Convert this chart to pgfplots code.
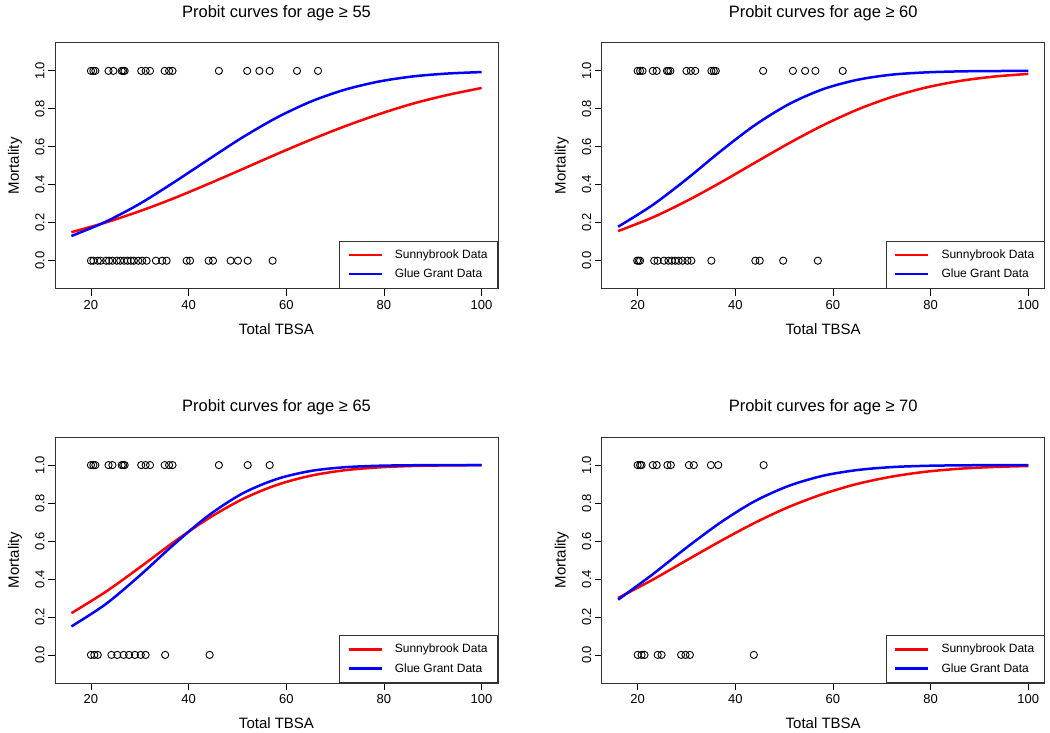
\documentclass[border=0pt]{standalone}
\usepackage{pgfplots}
\pgfplotsset{compat=1.18}
\usepackage{fontspec}
\setmainfont{Liberation Sans}
\pgfplotsset{
  rpanel/.style={
    scale only axis, width=443pt, height=246pt,
    xmin=12.64, xmax=103.36, ymin=-0.148, ymax=1.148,
    xtick={20,40,60,80,100}, ytick={0,0.2,0.4,0.6,0.8,1.0},
    tick align=outside, xtick pos=left, ytick pos=left,
    major tick length=7pt,
    every tick/.style={black, line width=0.8pt},
    axis line style={black!80, line width=0.9pt},
    /pgf/number format/assume math mode=true,
    xticklabel style={font=\fontsize{13}{15}\selectfont, yshift=-1pt},
    yticklabel style={font=\fontsize{13}{15}\selectfont, rotate=90, anchor=south, /pgf/number format/.cd, fixed, fixed zerofill, precision=1},
    xlabel={Total TBSA}, ylabel={Mortality},
    label style={font=\fontsize{15}{17}\selectfont},
    xlabel style={at={(axis description cs:0.5,0)}, anchor=center, yshift=-40pt},
    ylabel style={at={(axis description cs:0,0.5)}, anchor=center, yshift=40pt},
    title style={at={(axis description cs:0.5,1)}, anchor=center, yshift=24pt, font=\fontsize{16.5}{19}\selectfont},
    legend style={at={(axis description cs:1,0)}, anchor=south east, draw=black!80, line width=0.9pt,
      font=\fontsize{12}{14}\selectfont, inner xsep=8pt, inner ysep=7pt, row sep=5pt},
    legend cell align=left,
    legend image code/.code={\draw[#1, line width=2.5pt] (0pt,0pt) -- (33pt,0pt); \path (43pt,0pt);},
  },
  pts/.style={only marks, mark=o, mark size=3.6pt, black, mark options={line width=0.9pt}, forget plot},
  rcurve/.style={red, line width=2.5pt, smooth},
  bcurve/.style={blue, line width=2.5pt, smooth},
}
\begin{document}
\begin{tikzpicture}
\path[use as bounding box] (0,0) rectangle (1050pt,733pt);
% Panel 1
\begin{axis}[rpanel, at={(55pt,444.2pt)}, anchor=south west, title={Probit curves for age ≥ 55}]
\addplot[pts] coordinates {(20.0,1)(20.5,1)(20.9,1)(23.6,1)(24.6,1)(26.3,1)(26.6,1)(26.9,1)(30.3,1)(31.2,1)(32.1,1)(35.1,1)(36.0,1)(36.7,1)(46.2,1)(52.0,1)(54.5,1)(56.6,1)(62.2,1)(66.5,1)};
\addplot[pts] coordinates {(20.0,0)(20.5,0)(21.4,0)(22.0,0)(23.1,0)(23.7,0)(24.4,0)(25.3,0)(26.0,0)(26.8,0)(27.5,0)(28.2,0)(28.8,0)(29.7,0)(30.5,0)(31.4,0)(33.3,0)(34.6,0)(35.5,0)(39.6,0)(40.3,0)(44.1,0)(45.0,0)(48.6,0)(50.1,0)(52.1,0)(57.2,0)};
\addplot[rcurve] coordinates {(16,0.150)(23,0.201)(30,0.261)(37,0.329)(44,0.404)(51,0.482)(58,0.561)(65,0.637)(72,0.708)(79,0.772)(86,0.828)(93,0.873)(100,0.910)};
\addlegendentry{Sunnybrook Data}
\addplot[bcurve] coordinates {(16,0.130)(23,0.205)(30,0.300)(37,0.413)(44,0.532)(51,0.649)(58,0.753)(65,0.838)(72,0.901)(79,0.944)(86,0.971)(93,0.986)(100,0.9937)};
\addlegendentry{Glue Grant Data}
\end{axis}
% Panel 2
\begin{axis}[rpanel, at={(601.7pt,444.2pt)}, anchor=south west, title={Probit curves for age ≥ 60}]
\addplot[pts] coordinates {(20.0,1)(20.5,1)(21.0,1)(23.1,1)(23.9,1)(26.0,1)(26.3,1)(26.7,1)(30.0,1)(30.9,1)(31.8,1)(35.1,1)(35.6,1)(36.0,1)(45.7,1)(51.8,1)(54.3,1)(56.4,1)(62.0,1)};
\addplot[pts] coordinates {(19.9,0)(20.2,0)(20.5,0)(23.4,0)(24.1,0)(25.4,0)(26.3,0)(27.0,0)(27.7,0)(28.4,0)(29.2,0)(30.2,0)(31.0,0)(35.1,0)(44.1,0)(45.0,0)(49.8,0)(56.9,0)};
\addplot[rcurve] coordinates {(16,0.156)(23,0.227)(30,0.314)(37,0.412)(44,0.516)(51,0.619)(58,0.714)(65,0.796)(72,0.862)(79,0.912)(86,0.947)(93,0.970)(100,0.984)};
\addlegendentry{Sunnybrook Data}
\addplot[bcurve] coordinates {(16,0.179)(23,0.292)(30,0.429)(37,0.577)(44,0.714)(51,0.825)(58,0.904)(65,0.953)(72,0.980)(79,0.992)(86,0.9974)(93,0.9992)(100,0.9998)};
\addlegendentry{Glue Grant Data}
\end{axis}
% Panel 3
\begin{axis}[rpanel, at={(55pt,50pt)}, anchor=south west, title={Probit curves for age ≥ 65}]
\addplot[pts] coordinates {(20.0,1)(20.5,1)(20.9,1)(23.6,1)(24.4,1)(26.3,1)(26.6,1)(26.9,1)(30.3,1)(31.2,1)(32.1,1)(35.1,1)(36.0,1)(36.7,1)(46.2,1)(52.1,1)(56.6,1)};
\addplot[pts] coordinates {(20.0,0)(20.7,0)(21.4,0)(24.2,0)(25.4,0)(26.7,0)(27.8,0)(29.0,0)(30.2,0)(31.2,0)(35.2,0)(44.3,0)};
\addplot[rcurve] coordinates {(16,0.220)(23,0.332)(30,0.461)(37,0.595)(44,0.718)(51,0.820)(58,0.895)(65,0.944)(72,0.973)(79,0.988)(86,0.9954)(93,0.9984)(100,0.9995)};
\addlegendentry{Sunnybrook Data}
\addplot[bcurve] coordinates {(16,0.150)(23,0.267)(30,0.418)(37,0.582)(44,0.733)(51,0.850)(58,0.926)(65,0.969)(72,0.9887)(79,0.9965)(86,0.9991)(93,0.9998)(100,1.0)};
\addlegendentry{Glue Grant Data}
\end{axis}
% Panel 4
\begin{axis}[rpanel, at={(601.7pt,50pt)}, anchor=south west, title={Probit curves for age ≥ 70}]
\addplot[pts] coordinates {(20.0,1)(20.5,1)(20.8,1)(23.1,1)(23.9,1)(26.1,1)(26.8,1)(30.5,1)(31.5,1)(35.0,1)(36.5,1)(45.8,1)};
\addplot[pts] coordinates {(20.0,0)(20.8,0)(21.4,0)(24.1,0)(24.9,0)(28.9,0)(29.8,0)(30.7,0)(43.8,0)};
\addplot[rcurve] coordinates {(16,0.300)(23,0.395)(30,0.498)(37,0.600)(44,0.696)(51,0.780)(58,0.848)(65,0.901)(72,0.939)(79,0.965)(86,0.981)(93,0.990)(100,0.9951)};
\addlegendentry{Sunnybrook Data}
\addplot[bcurve] coordinates {(16,0.291)(23,0.423)(30,0.565)(37,0.698)(44,0.810)(51,0.891)(58,0.944)(65,0.974)(72,0.9894)(79,0.9961)(86,0.9987)(93,0.9996)(100,0.9999)};
\addlegendentry{Glue Grant Data}
\end{axis}
\end{tikzpicture}
\end{document}
